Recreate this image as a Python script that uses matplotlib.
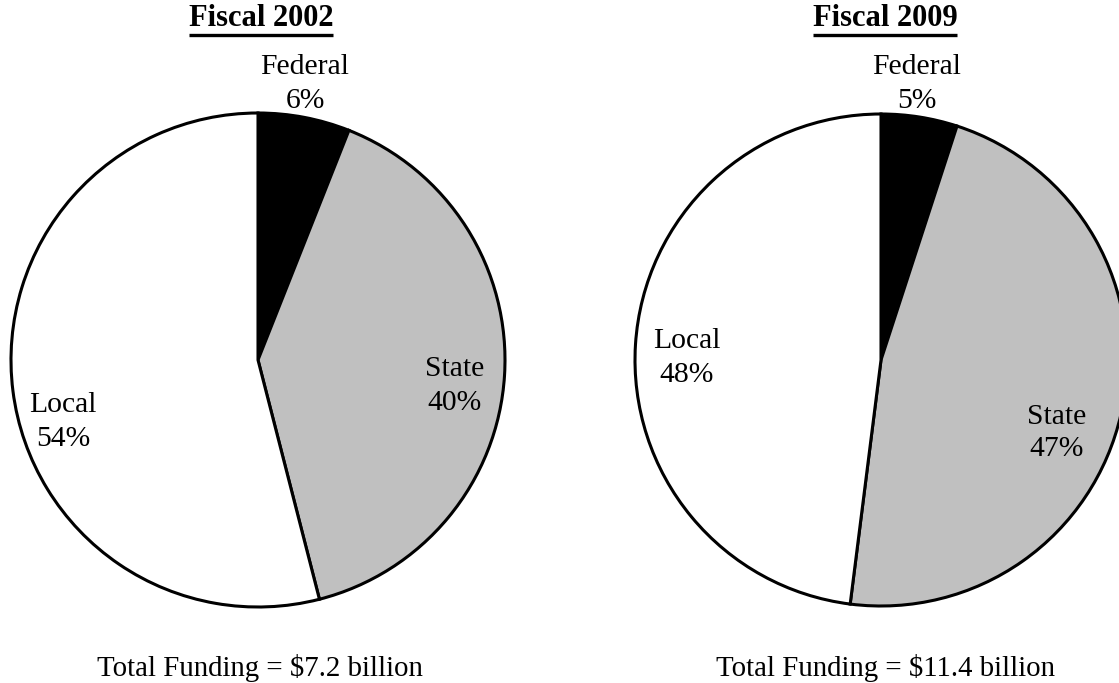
import matplotlib
matplotlib.use("Agg")
import matplotlib.pyplot as plt

# funding shares by source
sources = ["Federal", "State", "Local"]
share_2002 = [6, 40, 54]
share_2009 = [5, 47, 48]
titles = ["Fiscal 2002", "Fiscal 2009"]
totals = ["Total Funding = $7.2 billion", "Total Funding = $11.4 billion"]

colors = ["black", "#c0c0c0", "white"]

W, H = 1119, 683
plt.rcParams["font.family"] = ["Liberation Serif", "DejaVu Serif"]

fig = plt.figure(figsize=(W / 100, H / 100), dpi=100)
ax = fig.add_axes([0, 0, 1, 1])


def Y(y):
    # y measured from the top of the figure
    return H - y


# centre x, centre y, radius, label positions per slice, title x, total x
layouts = [
    dict(cx=258, cy=360, r=247,
         labels=[(305, 84), (455, 386), (63, 422)], tx=261, bx=260),
    dict(cx=881, cy=360, r=246,
         labels=[(917, 84), (1057, 433), (687, 358)], tx=885, bx=886),
]

title_texts = []
for shares, title, total, lay in zip([share_2002, share_2009], titles, totals, layouts):
    ax.pie(shares, colors=colors, startangle=90, counterclock=False,
           center=(lay["cx"], Y(lay["cy"])), radius=lay["r"], frame=True,
           wedgeprops=dict(edgecolor="black", linewidth=2.2))
    for name, val, (lx, ly) in zip(sources, shares, lay["labels"]):
        ax.text(lx, Y(ly), f"{name}\n{val}%", ha="center", va="center",
                fontsize=21.3, linespacing=1.35)
    t = ax.text(lay["tx"], Y(18), title, ha="center", va="center",
                fontsize=22, fontweight="bold")
    title_texts.append(t)
    ax.text(lay["bx"], Y(668), total, ha="center", va="center", fontsize=20.8)

ax.set_xlim(0, W)
ax.set_ylim(0, H)
ax.set_aspect("auto")
ax.axis("off")

# underline the titles
fig.canvas.draw()
renderer = fig.canvas.get_renderer()
inv = ax.transData.inverted()
for t in title_texts:
    bb = t.get_window_extent(renderer)
    (x0, y0), (x1, y1) = inv.transform([(bb.x0, bb.y0), (bb.x1, bb.y1)])
    ax.plot([x0, x1], [Y(35), Y(35)], color="black", linewidth=2.4,
            solid_capstyle="butt")

fig.savefig("out.png", dpi=100)
